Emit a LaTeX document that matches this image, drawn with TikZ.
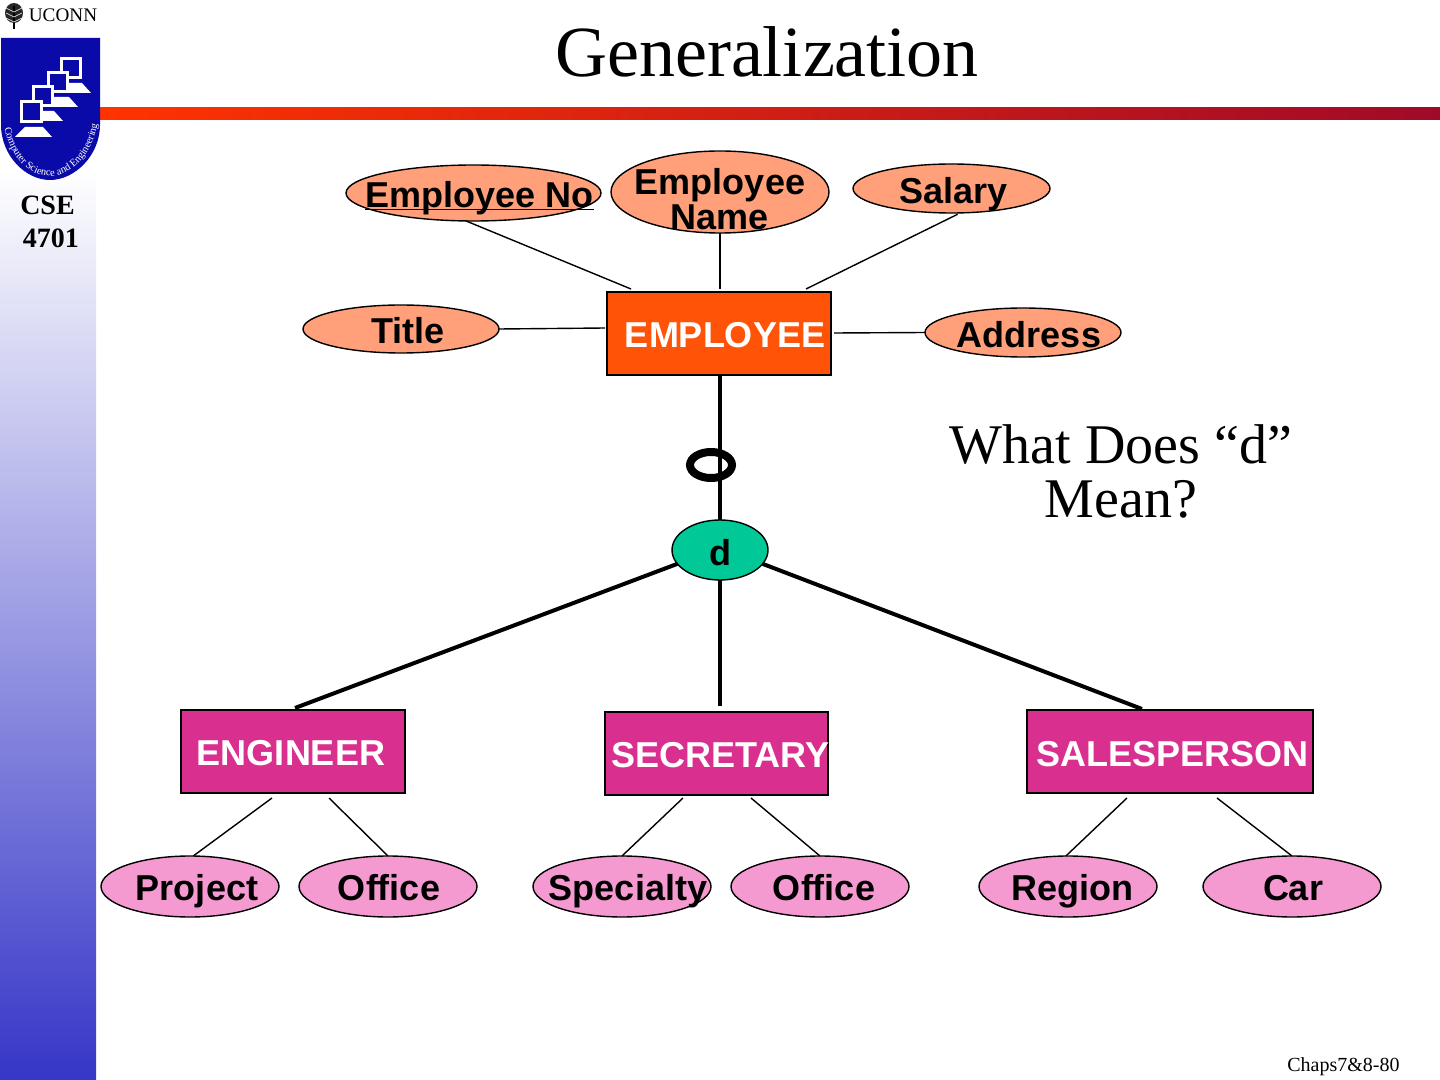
\documentclass[tikz,border=0pt]{standalone}
\usepackage{fontspec}
\setmainfont{Liberation Serif}
\newfontfamily\arialfont{Liberation Sans}
\usetikzlibrary{shapes.geometric,decorations.text}
\definecolor{attrcolor}{HTML}{FFA07A}
\definecolor{subcolor}{HTML}{F49AD0}
\definecolor{entcolor}{HTML}{FF5408}
\definecolor{speccolor}{HTML}{D93090}
\definecolor{disjcolor}{HTML}{00C896}
\definecolor{shieldcolor}{HTML}{0A0AA8}
\definecolor{stripcolor}{HTML}{3636C8}
\definecolor{barleft}{HTML}{FF3300}
\definecolor{barright}{HTML}{A00A28}

\begin{document}
\begin{tikzpicture}[x=.5pt,y=-.5pt,>=latex,
    every label/.style={font=\arialfont\bfseries\fontsize{18}{17.5}\selectfont,align=center,inner sep=0pt},
    attr/.style={draw,ellipse,inner sep=0pt,outer sep=0pt,line width=.7pt},
    topattr/.style={attr,fill=attrcolor},
    subattr/.style={attr,fill=subcolor,minimum width=89pt,minimum height=30.5pt},
    entity/.style={draw,inner sep=0pt,outer sep=0pt,line width=.7pt,minimum height=41.5pt,text=white},
    thinline/.style={line width=.7pt},
    thickline/.style={line width=2pt}]
    \useasboundingbox (0,0) rectangle (1440,1080);

    \shade[top color=white,bottom color=stripcolor] (0,170) rectangle (96,1080);
    \shade[left color=barleft,right color=barright] (100,108) rectangle (1440,120);

    \fill[black!85] (14,13) ellipse (4.5pt and 5pt);
    \draw[black,line width=.8pt] (14,6) -- (14,29);
    \foreach \y in {8,13,18} {
      \draw[white,line width=.3pt] (14,\y+4) -- (6,\y);
      \draw[white,line width=.3pt] (14,\y+4) -- (22,\y);
    }
    \node[font=\fontsize{9.6}{10}\selectfont,inner sep=0pt] (uconn) at (63,15) {UCONN};
    \fill[shieldcolor] (1,38) -- (100,38) -- (100,125) .. controls (100,155) and (75,180) .. (50,180)
      .. controls (25,180) and (1,155) .. (1,125) -- cycle;
    \foreach \mx/\my/\bw in {60/57/22,47/71/22,32/85/22,20/100/23} {
      \fill[white] (\mx-5,\my+\bw+14) -- (\mx+\bw+9,\my+\bw+14) -- (\mx+\bw,\my+\bw+4) -- (\mx+5,\my+\bw+4) -- cycle;
      \fill[white] (\mx,\my) rectangle (\mx+\bw,\my+\bw);
      \fill[shieldcolor] (\mx+3,\my+3) rectangle (\mx+\bw-3,\my+\bw-3);
    }
    \path[decorate,decoration={text along path,text align=center,
      text={|\fontsize{5.2}{6}\selectfont\color{white}|Computer Science and Engineering}}]
      (3,120) .. controls (8,158) and (30,176) .. (50,176) .. controls (70,176) and (93,158) .. (99,116);

    \node[font=\bfseries\fontsize{14}{16.5}\selectfont,align=center,inner sep=0pt] (course) at (47.5,222) {CSE~\\ ~4701};
    \node[font=\fontsize{36}{36}\selectfont,inner sep=0pt] (title) at (767,52) {Generalization};
    \node[font=\fontsize{28}{27}\selectfont,align=center,inner sep=0pt] (question) at (1121,471) {What Does “d”\\Mean?};
    \node[font=\fontsize{10}{10}\selectfont,anchor=east,inner sep=0pt] (page) at (1400,1067) {Chaps7\&8-80};

    \node[entity,fill=entcolor,minimum width=112pt,label={[text=white,xshift=3pt,yshift=-.7pt]center:EMPLOYEE}] (employee) at (719,333.5) {};
    \node[topattr,minimum width=127.5pt,minimum height=28pt,label={[xshift=3pt,yshift=-1.5pt]center:\underbar{Employee No}}] (empno) at (473.5,193) {};
    \node[topattr,minimum width=109pt,minimum height=41pt,label={[yshift=-3.5pt]center:Employee\\Name}] (empname) at (720,192) {};
    \node[topattr,minimum width=98.5pt,minimum height=24.5pt,label={[xshift=1.2pt,yshift=-2.7pt]center:Salary}] (salary) at (951.5,188.5) {};
    \node[topattr,minimum width=98pt,minimum height=24pt,label={[xshift=3.5pt,yshift=-1pt]center:Title}] (title attr) at (401,329) {};
    \node[topattr,minimum width=98pt,minimum height=24.5pt,label={[xshift=3pt,yshift=-1.2pt]center:Address}] (address) at (1023,332.5) {};

    \coordinate (empnoend) at (631,289);
    \coordinate (empnameend) at (720,289);
    \coordinate (salaryend) at (806,289);
    \coordinate (titleend) at (605,328);
    \coordinate (addressend) at (834,333);
    \coordinate (secretaryend) at (720,706);
    \coordinate (engineerend) at (295,708);
    \coordinate (salesend) at (1142,709);

    \draw[thinline] (empno.255) -- (empnoend);
    \draw[thinline] (empname.south) -- (empnameend);
    \draw[thinline,shorten <=1.5pt] (salary.-70) -- (salaryend);
    \draw[thinline] (title attr.east) -- (titleend);
    \draw[thinline] (address.west) -- (addressend);

    \node[draw,ellipse,line width=4pt,inner sep=0pt,outer sep=0pt,minimum width=21pt,minimum height=13pt] (overlap) at (711,465) {};
    \node[attr,fill=disjcolor,minimum width=48pt,minimum height=30pt,label={[yshift=-1.5pt]center:d}] (disjoint) at (720,550) {};
    \draw[thickline] (disjoint.north |- employee.south) -- (disjoint.north);
    \draw[thickline] (disjoint.south) -- (secretaryend);
    \draw[thickline] (disjoint.198) -- (engineerend);
    \draw[thickline] (disjoint.-18) -- (salesend);

    \node[entity,fill=speccolor,minimum width=112pt,label={[text=white,xshift=-1pt,yshift=-.7pt]center:ENGINEER}] (engineer) at (293,751.5) {};
    \node[entity,fill=speccolor,minimum width=111.5pt,label={[text=white,xshift=1.8pt,yshift=-.7pt]center:SECRETARY}] (secretary) at (716.5,753.5) {};
    \node[entity,fill=speccolor,minimum width=143pt,label={[text=white,xshift=1.2pt,yshift=-1.5pt]center:SALESPERSON}] (sales) at (1170,751.5) {};

    \node[subattr,label={[xshift=3.5pt,yshift=-2.3pt]center:Project}] (project) at (190,886.5) {};
    \node[subattr,label={[xshift=.5pt,yshift=-.8pt]center:Office}] (engoffice) at (388,886.5) {};
    \node[subattr,label={[xshift=3pt,yshift=-2.3pt]center:Specialty}] (specialty) at (622,886.5) {};
    \node[subattr,label={[xshift=2pt,yshift=-.8pt]center:Office}] (secoffice) at (820,886.5) {};
    \node[subattr,label={[xshift=2pt,yshift=-2.3pt]center:Region}] (region) at (1068,886.5) {};
    \node[subattr,label={[xshift=.5pt,yshift=-.8pt]center:Car}] (car) at (1292,886.5) {};

    \coordinate (projectend) at (272,798);
    \coordinate (engofficeend) at (329,798);
    \coordinate (specialtyend) at (683,798);
    \coordinate (secofficeend) at (751,798);
    \coordinate (regionend) at (1127,798);
    \coordinate (carend) at (1217,798);
    \draw[thinline] (project.84) -- (projectend);
    \draw[thinline] (engoffice.north) -- (engofficeend);
    \draw[thinline] (specialty.north) -- (specialtyend);
    \draw[thinline] (secoffice.north) -- (secofficeend);
    \draw[thinline] (region.94) -- (regionend);
    \draw[thinline] (car.north) -- (carend);
  \end{tikzpicture}
\end{document}
